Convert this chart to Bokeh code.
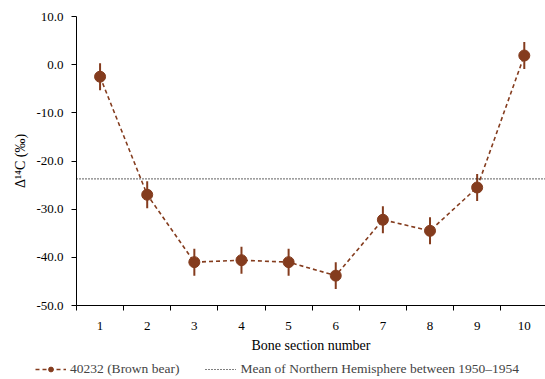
from bokeh.plotting import figure
from bokeh.models import (FixedTicker, Range1d, Span, Legend, LegendItem,
                          PrintfTickFormatter, ColumnDataSource)
from bokeh.embed import file_html
from bokeh.resources import INLINE

# ---- data ----
sections = [1, 2, 3, 4, 5, 6, 7, 8, 9, 10]
delta14c = [-2.5, -27.0, -41.0, -40.6, -41.0, -43.8, -32.2, -34.5, -25.5, 1.9]
errors = [2.8, 2.8, 2.8, 2.8, 2.8, 2.8, 2.8, 2.8, 2.8, 2.8]
nh_mean = -23.7
y_ticks = [-50, -40, -30, -20, -10, 0, 10]
series_label = "40232 (Brown bear)"
ref_label = "Mean of Northern Hemisphere between 1950\u20131954"

BROWN = "#843c1e"
FONT = "Liberation Serif"

p = figure(width=545, height=357, output_backend="svg", toolbar_location=None,
           x_range=Range1d(0.5, 10.45), y_range=Range1d(-50, 10),
           min_border_left=76, min_border_top=16, min_border_right=0,
           min_border_bottom=52)
p.outline_line_color = None
p.xgrid.visible = False
p.ygrid.visible = False
p.background_fill_color = "white"

lower = [v - e for v, e in zip(delta14c, errors)]
upper = [v + e for v, e in zip(delta14c, errors)]
src = ColumnDataSource(dict(x=sections, y=delta14c, lo=lower, hi=upper))

ref = Span(location=nh_mean, dimension="width", line_color="black",
           line_dash="1 2", line_width=1.2)
p.add_layout(ref)

p.segment(x0="x", y0="lo", x1="x", y1="hi", source=src, line_color=BROWN,
          line_width=2)
p.line("x", "y", source=src, line_color=BROWN, line_dash="4 3", line_width=1.6)
p.scatter("x", "y", source=src, size=11, fill_color=BROWN, line_color=BROWN)

# axes
p.xaxis.ticker = FixedTicker(ticks=sections,
                             minor_ticks=[s - 0.5 for s in sections])
p.xaxis.major_tick_line_color = None
p.xaxis.minor_tick_line_color = "black"
p.xaxis.minor_tick_out = 5
p.xaxis.minor_tick_in = 0
p.xaxis.axis_label = "Bone section number"
p.xaxis.major_label_standoff = 10
p.xaxis.axis_label_standoff = 5

p.yaxis.ticker = FixedTicker(ticks=y_ticks, minor_ticks=[])
p.yaxis.formatter = PrintfTickFormatter(format="%.1f")
p.yaxis.major_tick_out = 5
p.yaxis.major_tick_in = 0
p.yaxis.axis_label = "\u0394\u00b9\u2074C (\u2030)"
p.yaxis.axis_label_standoff = 5
p.yaxis.major_label_standoff = 8

for ax in (p.xaxis, p.yaxis):
    ax.axis_line_color = "black"
    ax.axis_line_width = 1
    ax.major_label_text_font = FONT
    ax.major_label_text_font_size = "13px"
    ax.major_label_text_color = "black"
    ax.axis_label_text_font = FONT
    ax.axis_label_text_font_size = "14px"
    ax.axis_label_text_font_style = "normal"
    ax.axis_label_text_color = "black"

# ---- legend strip below the chart (separate root, so its frame is not aligned) ----
lg = figure(width=545, height=22, output_backend="svg", toolbar_location=None,
            x_range=Range1d(0, 1), y_range=Range1d(0, 1),
            x_axis_type=None, y_axis_type=None,
            min_border=0, min_border_left=0, min_border_right=0,
            min_border_top=0, min_border_bottom=0)
lg.grid.visible = False
lg.outline_line_color = None
hidden_x = [-5, -4]
hidden_y = [-5, -5]
leg_ln = lg.line(hidden_x, hidden_y, line_color=BROWN, line_dash="4 3", line_width=1.6)
leg_sc = lg.scatter(hidden_x, hidden_y, size=8, fill_color=BROWN, line_color=BROWN)
leg_ref = lg.line(hidden_x, hidden_y, line_color="black", line_dash="1 2", line_width=1.2)

legend = Legend(items=[LegendItem(label=series_label, renderers=[leg_ln, leg_sc]),
                       LegendItem(label=ref_label, renderers=[leg_ref])],
                orientation="horizontal", location=(35, 2),
                label_text_font=FONT, label_text_font_size="13.5px",
                glyph_width=31, glyph_height=12, label_standoff=4,
                spacing=26, padding=2, margin=0, border_line_color=None,
                background_fill_alpha=0, label_height=12)
lg.add_layout(legend, "center")

open("out.html", "w").write(file_html([p, lg], INLINE))
